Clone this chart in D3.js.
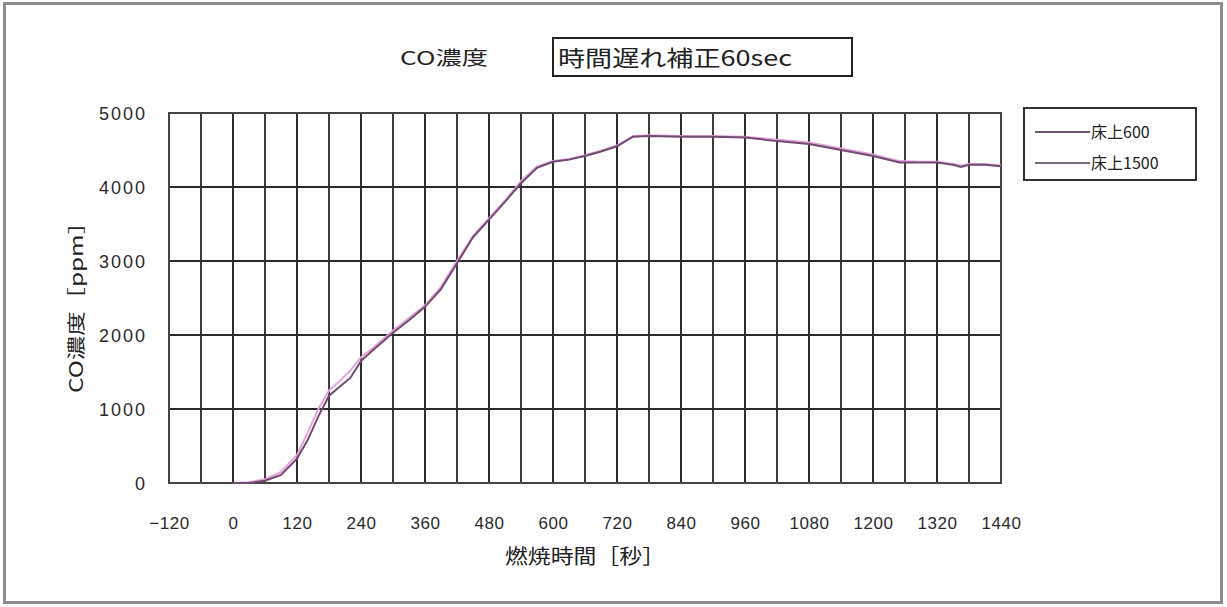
<!DOCTYPE html>
<html><head><meta charset="utf-8">
<script src="https://cdn.jsdelivr.net/npm/d3@7"></script>
<style>
html,body{margin:0;padding:0;background:#fff;}
svg{display:block;}
</style></head>
<body>
<script>
// ---- data ----
const seriesNames = ["床上600", "床上1500"];
const timeA = [0,30,60,90,120,140,160,180,200,220,240,260,300,330,360,390,420,450,480,510,540,570,600,630,660,690,720,750,780,840,900,960,1020,1080,1140,1200,1250,1290,1320,1350,1365,1380,1410,1440];
const coA   = [0,0,30,110,330,580,900,1180,1300,1420,1650,1780,2030,2200,2380,2620,2970,3320,3560,3800,4050,4260,4340,4370,4420,4480,4550,4680,4690,4680,4680,4670,4620,4580,4500,4420,4330,4330,4330,4300,4270,4300,4300,4280];
const timeB = [0,30,60,90,120,140,160,180,200,220,240,260,300,330,360,390,420,450,480,510,540,570,600,630,660,690,720,750,780,840,900,960,1020,1080,1140,1200,1250,1290,1320,1350,1365,1380,1410,1440];
const coB   = [0,10,50,150,380,680,1000,1250,1380,1520,1700,1810,2060,2230,2400,2650,3000,3340,3580,3820,4080,4280,4350,4380,4430,4490,4560,4690,4700,4690,4690,4680,4640,4600,4520,4440,4350,4340,4340,4310,4290,4310,4310,4290];
const xTicks = [-120,0,120,240,360,480,600,720,840,960,1080,1200,1320,1440];
const yTicks = [0,1000,2000,3000,4000,5000];
const chartTitle = "CO濃度";
const boxTitle = "時間遅れ補正60sec";
const xTitle = "燃焼時間［秒］";
const yTitle = "CO濃度［ppm］";

const W = 1227, H = 607;
const svg = d3.select("body").append("svg").attr("width", W).attr("height", H);
const jp = "'Noto Sans CJK JP', sans-serif";
const num = "'Liberation Sans', Arial, sans-serif";

// outer frame
svg.append("rect").attr("x", 4.5).attr("y", 3.5).attr("width", 1217).attr("height", 599)
  .attr("fill", "#fff").attr("stroke", "#8c8c8c").attr("stroke-width", 3);

const x = d3.scaleLinear().domain([-120, 1440]).range([169, 1001]);
const y = d3.scaleLinear().domain([0, 5000]).range([483, 113]);

const g = svg.append("g");
// vertical grid every 60 s
const vGrid = d3.range(-60, 1440, 60);
g.selectAll("line.v").data(vGrid).join("line")
  .attr("x1", d => x(d)).attr("x2", d => x(d)).attr("y1", y(5000)).attr("y2", y(0))
  .attr("stroke", d => (d % 120 === 0) ? "#2e2e2e" : "#3c3c3c")
  .attr("stroke-width", 2);
// horizontal grid
g.selectAll("line.h").data(yTicks.slice(1, -1)).join("line")
  .attr("x1", x(-120)).attr("x2", x(1440)).attr("y1", d => y(d)).attr("y2", d => y(d))
  .attr("stroke", "#2a2a2a").attr("stroke-width", 2);
// plot border
g.append("rect").attr("x", x(-120)).attr("y", y(5000)).attr("width", x(1440) - x(-120)).attr("height", y(0) - y(5000))
  .attr("fill", "none").attr("stroke", "#444").attr("stroke-width", 2);

// axes
const xAxis = d3.axisBottom(x).tickValues(xTicks).tickSize(0).tickPadding(0).tickFormat(d => d < 0 ? "−" + Math.abs(d) : String(d));
const gx = svg.append("g").attr("transform", `translate(0,${y(0)})`).call(xAxis);
gx.select(".domain").remove();
gx.selectAll("text").attr("y", 46).attr("dy", null).attr("font-family", num).attr("font-size", 17)
  .attr("letter-spacing", "0.5px").attr("fill", "#2a2a2a");

const yAxis = d3.axisLeft(y).tickValues(yTicks).tickSize(0).tickPadding(0).tickFormat(d3.format("d"));
const gy = svg.append("g").attr("transform", `translate(147,0)`).call(yAxis);
gy.select(".domain").remove();
gy.selectAll("text").attr("x", 0).attr("dy", "0.35em").attr("font-family", num).attr("font-size", 18)
  .attr("letter-spacing", "2px").attr("fill", "#2a2a2a");

// lines
const line = d3.line().x(d => x(d[0])).y(d => y(d[1]));
const dataA = timeA.map((t, i) => [t, coA[i]]);
const dataB = timeB.map((t, i) => [t, coB[i]]);
const colors = ["#6f4c70", "#e4a2d8"];
svg.append("path").datum(dataB).attr("d", line).attr("fill", "none").attr("stroke", colors[1]).attr("stroke-width", 2);
svg.append("path").datum(dataA).attr("d", line).attr("fill", "none").attr("stroke", colors[0]).attr("stroke-width", 2);

// titles
svg.append("text").attr("x", 400).attr("y", 58).attr("dy", "0.35em")
  .attr("textLength", 88).attr("lengthAdjust", "spacingAndGlyphs")
  .attr("font-family", jp).attr("font-size", 19).attr("fill", "#222").text(chartTitle);
svg.append("rect").attr("x", 553).attr("y", 38).attr("width", 299).attr("height", 38)
  .attr("fill", "#fff").attr("stroke", "#222").attr("stroke-width", 2);
svg.append("text").attr("x", 558).attr("y", 58).attr("dy", "0.35em")
  .attr("textLength", 234).attr("lengthAdjust", "spacingAndGlyphs")
  .attr("font-family", jp).attr("font-size", 22).attr("fill", "#222").text(boxTitle);

svg.append("text").attr("x", 505).attr("y", 557).attr("dy", "0.35em")
  .attr("textLength", 160).attr("lengthAdjust", "spacingAndGlyphs")
  .attr("font-family", jp).attr("font-size", 20).attr("fill", "#222").text(xTitle);
svg.append("text").attr("transform", "translate(77,393) rotate(-90)").attr("dy", "0.35em")
  .attr("textLength", 183).attr("lengthAdjust", "spacingAndGlyphs")
  .attr("font-family", jp).attr("font-size", 18).attr("fill", "#222").text(yTitle);

// legend
const lg = svg.append("g");
lg.append("rect").attr("x", 1024).attr("y", 108).attr("width", 172).attr("height", 72)
  .attr("fill", "#fff").attr("stroke", "#333").attr("stroke-width", 2);
const ly = [132, 163];
seriesNames.forEach((n, i) => {
  lg.append("line").attr("x1", 1035).attr("x2", 1090).attr("y1", ly[i]).attr("y2", ly[i])
    .attr("stroke", i === 0 ? "#6a5a6e" : "#7a6a7e").attr("stroke-width", 2);
  lg.append("text").attr("x", 1091).attr("y", ly[i]).attr("dy", "0.35em")
    .attr("font-family", jp).attr("font-size", 16).attr("fill", "#222").text(n);
});
</script>
</body></html>
